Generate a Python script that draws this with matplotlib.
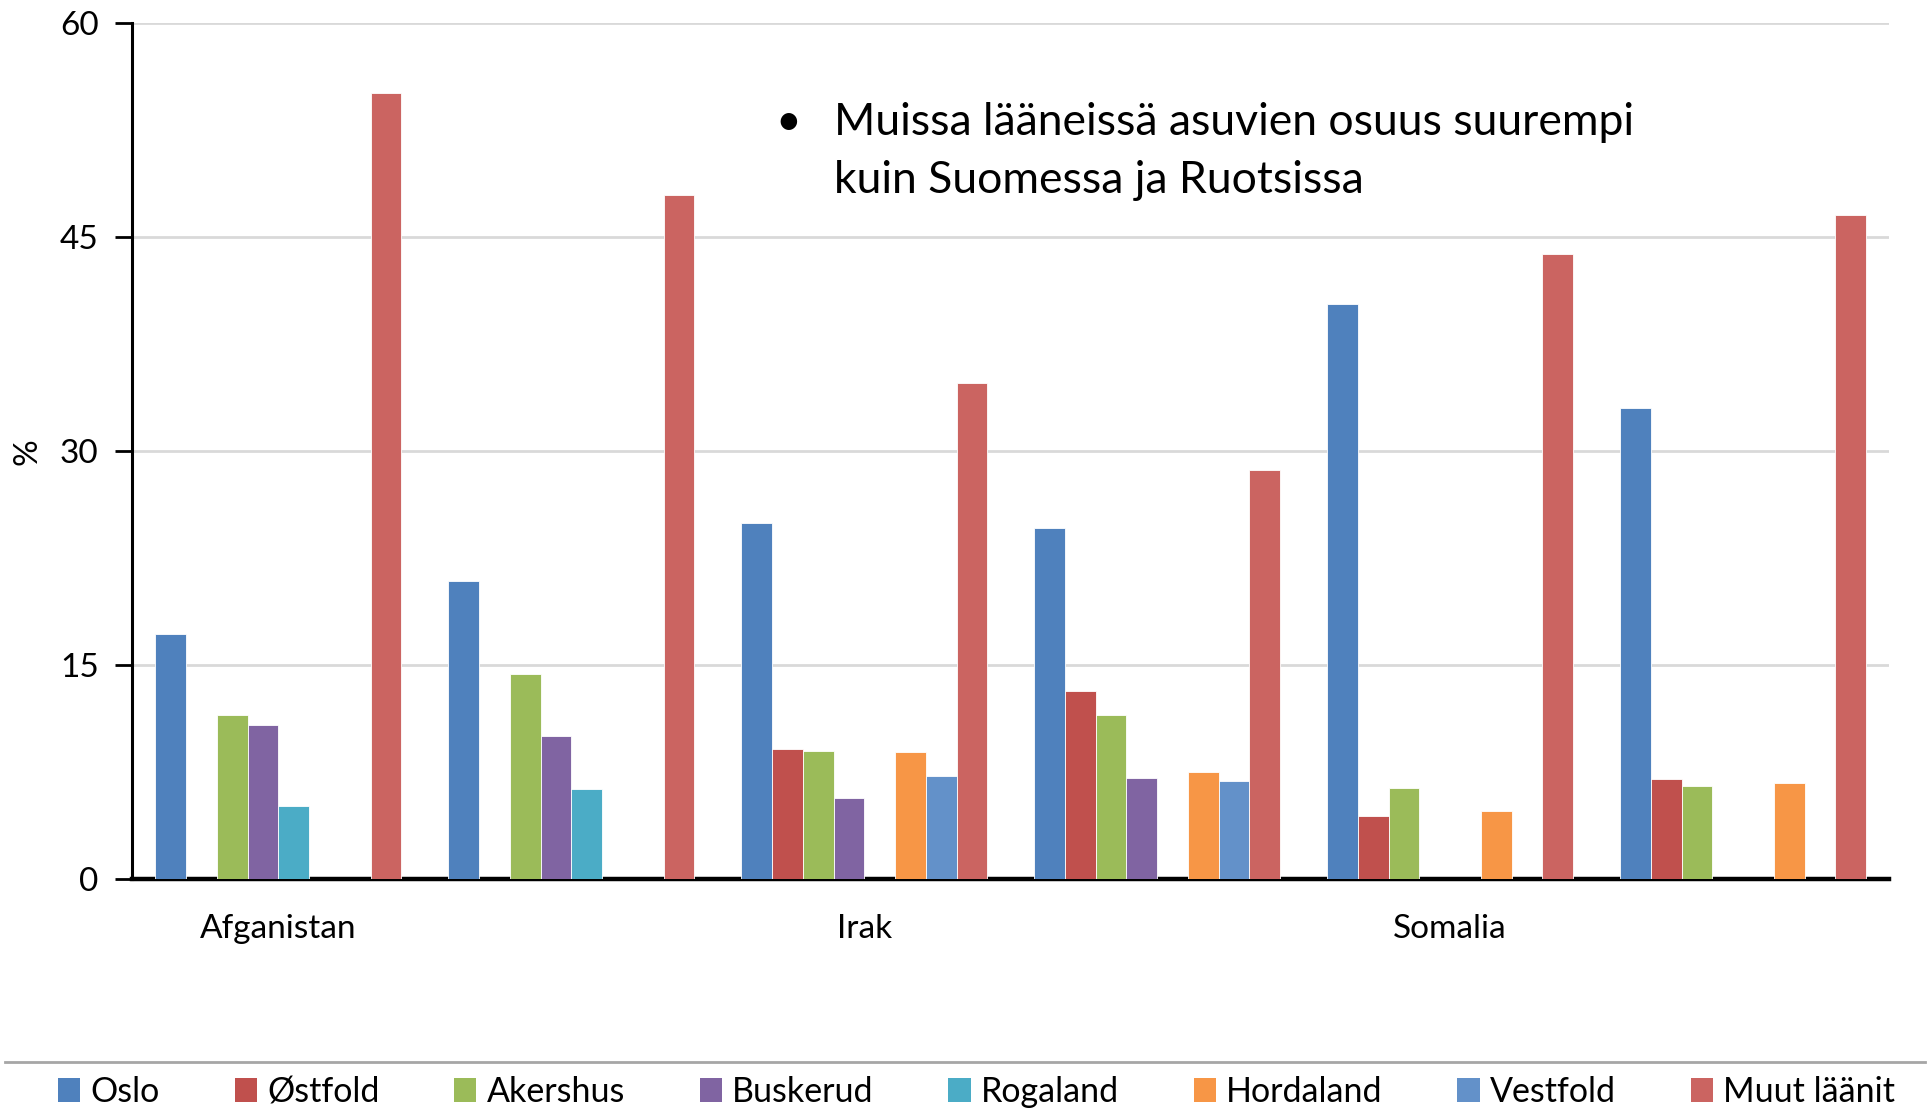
import matplotlib
matplotlib.use("Agg")
import matplotlib.pyplot as plt
import numpy as np
from matplotlib.patches import Patch
from matplotlib.lines import Line2D

plt.rcParams['font.family'] = ['Lato', 'DejaVu Sans']

# data
regions = ["Oslo", "Østfold", "Akershus", "Buskerud", "Rogaland",
           "Hordaland", "Vestfold", "Muut läänit"]
group_labels = ["Afganistan", "", "Irak", "", "Somalia", ""]

oslo = [17.2, 20.9, 25.0, 24.6, 40.3, 33.0]
ostfold = [0, 0, 9.1, 13.2, 4.4, 7.0]
akershus = [11.5, 14.4, 9.0, 11.5, 6.4, 6.5]
buskerud = [10.8, 10.0, 5.7, 7.1, 0, 0]
rogaland = [5.1, 6.3, 0, 0, 0, 0]
hordaland = [0, 0, 8.9, 7.5, 4.8, 6.7]
vestfold = [0, 0, 7.2, 6.9, 0, 0]
muut = [55.1, 48.0, 34.8, 28.7, 43.8, 46.6]

series = [oslo, ostfold, akershus, buskerud, rogaland, hordaland, vestfold, muut]
colors = ["#4F81BD", "#C0504D", "#9BBB59", "#8064A2", "#4BACC6",
          "#F79646", "#6391C9", "#CB6461"]

fig = plt.figure(figsize=(19.30, 11.19), dpi=100)
ax = fig.add_axes([0.0684, 0.2145, 0.9106, 0.7645])

x = np.arange(len(group_labels))
w = 0.84 / len(series)
for i, (vals, col) in enumerate(zip(series, colors)):
    ax.bar(x + (i - 3.5) * w, vals, width=w, color=col,
           edgecolor="white", linewidth=0.6, zorder=3, label=regions[i])

ax.set_xlim(-0.5, len(group_labels) - 0.5)
ax.set_ylim(0, 60)
ax.set_yticks([0, 15, 30, 45, 60])
ax.yaxis.grid(True, color="#D9D9D9", linewidth=2, zorder=0)
ax.set_axisbelow(True)

ax.set_xticks(x)
ax.set_xticklabels(group_labels, fontsize=24)
ax.tick_params(axis="x", length=0, pad=25)
ax.tick_params(axis="y", labelsize=24, length=12, width=2, pad=12)

for s in ["top", "right"]:
    ax.spines[s].set_visible(False)
ax.spines["left"].set_linewidth(2.2)
ax.spines["bottom"].set_linewidth(3.2)

ax.set_ylabel("%", fontsize=24)
ax.yaxis.set_label_coords(-0.051, 0.5)

# annotation
fig.text(788 / 1930, 1 - 135 / 1119, "•", fontsize=32, ha="center", va="baseline")
fig.text(834 / 1930, 1 - 135 / 1119, "Muissa lääneissä asuvien osuus suurempi",
         fontsize=32, va="baseline")
fig.text(834 / 1930, 1 - 193 / 1119, "kuin Suomessa ja Ruotsissa",
         fontsize=32, va="baseline")

# separator line above legend
fig.add_artist(Line2D([5 / 1930, 1925 / 1930], [1 - 1062 / 1119] * 2,
                      color="#A6A6A6", linewidth=2))

handles = [Patch(facecolor=c, edgecolor="none") for c in colors]
fig.legend(handles, regions, loc="center", ncol=8,
           bbox_to_anchor=(0.506, 1 - 1092 / 1119), frameon=False,
           fontsize=24.5, handlelength=0.65, handleheight=0.7,
           handletextpad=0.3, columnspacing=2.2)

fig.savefig("out.png", dpi=100)
